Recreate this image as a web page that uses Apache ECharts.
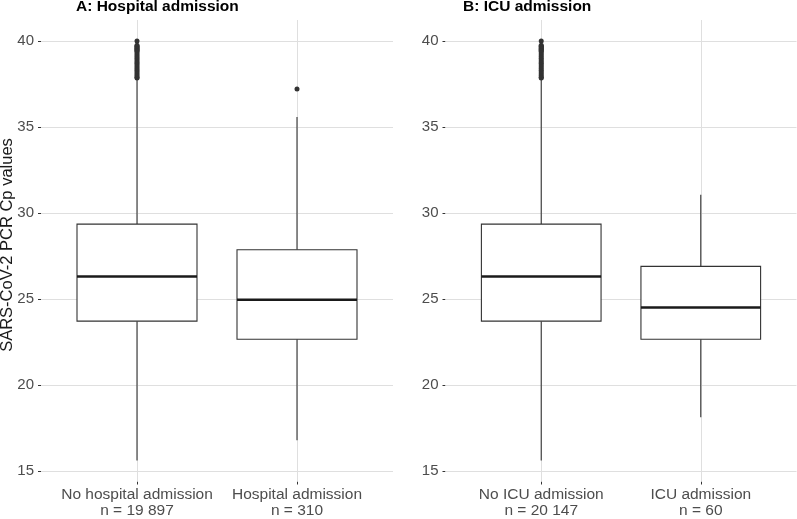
<!DOCTYPE html>
<html>
<head>
<meta charset="utf-8">
<script src="https://cdn.jsdelivr.net/npm/echarts@6/dist/echarts.min.js"></script>
<style>html,body{margin:0;padding:0;background:#fff;}#c{width:797px;height:519px;}</style>
</head>
<body>
<div id="c"></div>
<script>
// ---- data ----
const labelsA = ['No hospital admission', 'Hospital admission'];
const countsA = ['n = 19 897', 'n = 310'];
const labelsB = ['No ICU admission', 'ICU admission'];
const countsB = ['n = 20 147', 'n = 60'];
// [lower whisker, Q1, median, Q3, upper whisker]
const boxA = [[15.62, 23.72, 26.31, 29.36, 37.8], [16.8, 22.67, 24.96, 27.87, 35.58]];
const boxB = [[15.62, 23.72, 26.31, 29.36, 37.8], [18.14, 22.67, 24.51, 26.9, 31.06]];
const outliersA1 = [40.0, 39.75, 39.7, 39.65, 39.6, 39.55, 39.5, 39.45, 39.4, 39.3, 39.2, 39.1, 39.0, 38.9, 38.8, 38.7, 38.6, 38.5, 38.4, 38.3, 38.2, 38.1, 38.0, 37.9, 37.85];
const outliersA2 = [37.21];
const outliersB1 = [40.0, 39.75, 39.7, 39.65, 39.6, 39.55, 39.5, 39.45, 39.4, 39.3, 39.2, 39.1, 39.0, 38.9, 38.8, 38.7, 38.6, 38.5, 38.4, 38.3, 38.2, 38.1, 38.0, 37.9, 37.85];
const outliersB2 = [];
const yTicks = [15, 20, 25, 30, 35, 40];
const xPos = [1, 2];
const titles = ['A: Hospital admission', 'B: ICU admission'];
const yTitle = 'SARS-CoV-2 PCR Cp values';

// ---- chart ----
const FONT = "'Liberation Sans', Arial, sans-serif";
const INK = '#333333';
const GRID = '#dfdfdf';
const chart = echarts.init(document.getElementById('c'), null, {renderer: 'canvas'});

function renderBox(params, api) {
  const x = api.value(0);
  const pLo = api.coord([x, api.value(1)]);
  const pQ1 = api.coord([x, api.value(2)]);
  const pMed = api.coord([x, api.value(3)]);
  const pQ3 = api.coord([x, api.value(4)]);
  const pHi = api.coord([x, api.value(5)]);
  const w = api.size([0.75, 0])[0];
  const line = {stroke: INK, lineWidth: 1.1};
  return {
    type: 'group',
    children: [
      {type: 'line', shape: {x1: pHi[0], y1: pHi[1], x2: pQ3[0], y2: pQ3[1]}, style: line},
      {type: 'line', shape: {x1: pQ1[0], y1: pQ1[1], x2: pLo[0], y2: pLo[1]}, style: line},
      {type: 'rect', shape: {x: pQ3[0] - w / 2, y: pQ3[1], width: w, height: pQ1[1] - pQ3[1]},
        style: {fill: '#ffffff', stroke: INK, lineWidth: 1.1}},
      {type: 'line', shape: {x1: pMed[0] - w / 2, y1: pMed[1], x2: pMed[0] + w / 2, y2: pMed[1]},
        style: {stroke: '#1a1a1a', lineWidth: 2.4}}
    ]
  };
}

function xAxisFor(idx, labels, counts) {
  return {
    type: 'value', gridIndex: idx, min: 0.4, max: 2.6,
    axisLine: {show: false},
    splitLine: {show: false},
    axisTick: {show: true, customValues: xPos, length: 3, lineStyle: {color: INK, width: 1}},
    axisLabel: {
      customValues: xPos, margin: 5.5, color: '#4d4d4d', fontSize: 15.5, fontFamily: FONT, lineHeight: 16,
      formatter: v => labels[Math.round(v) - 1] + '\n' + counts[Math.round(v) - 1]
    }
  };
}
function yAxisFor(idx) {
  return {
    type: 'value', gridIndex: idx, min: 14.4, max: 41.22,
    axisLine: {show: false},
    splitLine: {show: false},
    axisTick: {show: true, customValues: yTicks, length: 3, lineStyle: {color: INK, width: 1}},
    axisLabel: {customValues: yTicks, margin: 7, color: '#4d4d4d', fontSize: 15, fontFamily: FONT}
  };
}
function gridLines(idx) {
  return {
    type: 'line', xAxisIndex: idx, yAxisIndex: idx, data: [], z: 0, silent: true,
    markLine: {
      z: 1, silent: true, symbol: ['none', 'none'], label: {show: false}, animation: false,
      lineStyle: {color: GRID, width: 1, type: 'solid'},
      data: yTicks.map(v => ({yAxis: v})).concat(xPos.map(v => ({xAxis: v})))
    }
  };
}
function boxSeries(idx, boxes) {
  return {
    type: 'custom', xAxisIndex: idx, yAxisIndex: idx, z: 10, renderItem: renderBox,
    encode: {x: 0, y: [1, 2, 3, 4, 5]},
    data: boxes.map((b, i) => [xPos[i]].concat(b))
  };
}
function outlierSeries(idx, xs, lists) {
  const data = [];
  lists.forEach((l, i) => l.forEach(v => data.push([xs[i], v])));
  return {
    type: 'scatter', xAxisIndex: idx, yAxisIndex: idx, z: 11, symbol: 'circle', symbolSize: 5,
    itemStyle: {color: INK, opacity: 1}, data: data
  };
}

chart.setOption({
  animation: false,
  backgroundColor: '#ffffff',
  title: [
    {text: titles[0], left: 76, top: -1, padding: 0,
      textStyle: {fontSize: 15.5, fontWeight: 'bold', color: '#000', fontFamily: FONT}},
    {text: titles[1], left: 463, top: -1, padding: 0,
      textStyle: {fontSize: 15.5, fontWeight: 'bold', color: '#000', fontFamily: FONT}}
  ],
  graphic: [{
    type: 'text', x: 7, y: 245, rotation: Math.PI / 2, silent: true,
    style: {text: yTitle, fill: '#1a1a1a', font: "16.5px 'Liberation Sans', Arial, sans-serif",
      align: 'center', verticalAlign: 'middle'}
  }],
  grid: [
    {left: 41, top: 20, width: 352, height: 461.5},
    {left: 445.5, top: 20, width: 351, height: 461.5}
  ],
  xAxis: [xAxisFor(0, labelsA, countsA), xAxisFor(1, labelsB, countsB)],
  yAxis: [yAxisFor(0), yAxisFor(1)],
  series: [
    gridLines(0), gridLines(1),
    boxSeries(0, boxA), boxSeries(1, boxB),
    outlierSeries(0, xPos, [outliersA1, outliersA2]),
    outlierSeries(1, xPos, [outliersB1, outliersB2])
  ]
});
</script>
</body>
</html>
